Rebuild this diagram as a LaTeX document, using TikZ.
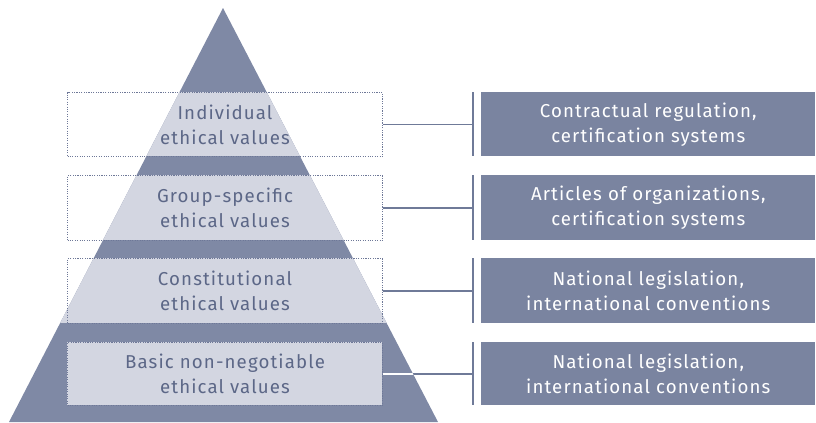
\documentclass[tikz,border=0pt]{standalone}
\usepackage{fontspec}
\setmainfont{Fira Sans}[LetterSpace=6]
\definecolor{pyrdark}{HTML}{7F89A5}
\definecolor{boxcol}{HTML}{7A84A0}
\definecolor{bandlight}{HTML}{D3D6E1}
\definecolor{txtcol}{HTML}{5C6787}
\definecolor{dotcol}{HTML}{6E7898}
\definecolor{linecol}{HTML}{6F7A98}
\begin{document}
\begin{tikzpicture}[x=0.75pt,y=-0.75pt,
  bandbox/.style={draw=dotcol,densely dotted,line width=0.8pt,minimum width=315*0.75pt,
    anchor=north west,inner sep=0pt,align=center,text=txtcol,
    font=\fontsize{14}{18.75}\selectfont},
  rightbox/.style={fill=boxcol,minimum width=334*0.75pt,anchor=north west,inner sep=0pt,
    align=center,text=white,font=\fontsize{14}{18.75}\selectfont},
  barnode/.style={fill=linecol,minimum width=1.6pt,inner sep=0pt,anchor=north west},
  conn/.style={draw=linecol,line width=1.1pt}]
\useasboundingbox (0,0) rectangle (816,422);
% pyramid
\fill[pyrdark] (223,8) -- (438,422) -- (9,422) -- cycle;
\begin{scope}
  \clip (223,8) -- (438,422) -- (9,422) -- cycle;
  \fill[bandlight] (0,92) rectangle (816,156);
  \fill[bandlight] (0,175) rectangle (816,240);
  \fill[bandlight] (0,258) rectangle (816,323);
\end{scope}
\fill[bandlight] (67,342) rectangle (382,405);
% left dotted boxes
\node[bandbox,minimum height=64*0.75pt] (l1) at (67,92) {Individual\\ethical values};
\node[bandbox,minimum height=65*0.75pt] (l2) at (67,175) {Group-specific\\ethical values};
\node[bandbox,minimum height=65*0.75pt] (l3) at (67,258) {Constitutional\\ethical values};
\node[bandbox,minimum height=63*0.75pt] (l4) at (67,342) {Basic non-negotiable\\ethical values};
% bars
\node[barnode,minimum height=64*0.75pt] (b1) at (472,92) {};
\node[barnode,minimum height=65*0.75pt] (b2) at (472,175) {};
\node[barnode,minimum height=65*0.75pt] (b3) at (472,258) {};
\node[barnode,minimum height=63*0.75pt] (b4) at (472,342) {};
% right boxes
\node[rightbox,minimum height=64*0.75pt] (r1) at (481,92) {Contractual regulation,\\certification systems};
\node[rightbox,minimum height=65*0.75pt] (r2) at (481,175) {Articles of organizations,\\certification systems};
\node[rightbox,minimum height=65*0.75pt] (r3) at (481,258) {National legislation,\\international conventions};
\node[rightbox,minimum height=63*0.75pt] (r4) at (481,342) {National legislation,\\international conventions};
% connectors
\draw[conn] (l1.east) -- (l1.east -| b1.west);
\draw[conn] (l2.east) -- (l2.east -| b2.west);
\draw[conn] (l3.east) -- (l3.east -| b3.west);
\draw[conn] (l4.east) -- (l4.east -| b4.west);
\begin{scope}
  \clip (223,8) -- (438,422) -- (9,422) -- cycle;
  \draw[conn,draw=white] (l4.east) -- (l4.east -| b4.west);
\end{scope}
\end{tikzpicture}
\end{document}
